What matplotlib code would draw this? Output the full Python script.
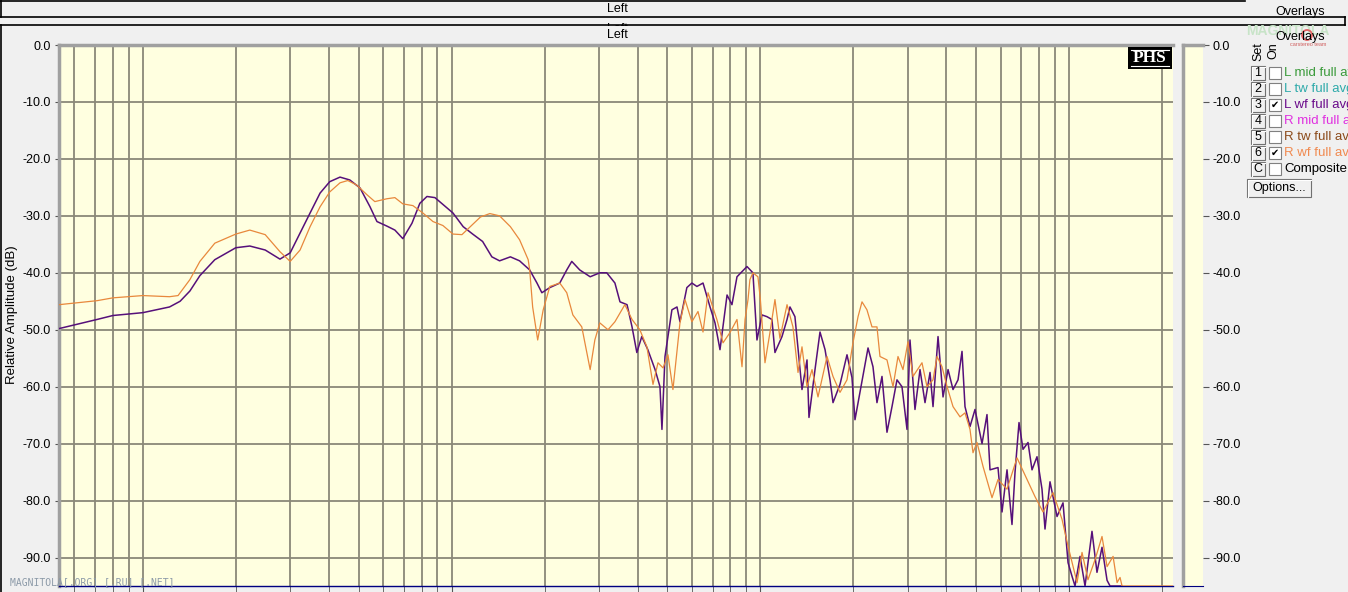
import numpy as np
import matplotlib.pyplot as plt
from matplotlib.ticker import LogLocator, NullFormatter
from matplotlib.patches import Rectangle, Circle

plt.rcParams['font.family'] = ['Liberation Sans', 'DejaVu Sans']

# L wf full avg (purple) - frequency in Hz, level in dB
l_wf_freq = [5.35, 7.1, 8.0, 10, 12.2, 13.2, 14.2, 15.3, 17.1, 20,
             22.2, 24.9, 27.8, 30, 32.3, 34.8, 37.5, 40.3, 43.5, 46.8,
             50.5, 54.4, 57.3, 61.7, 65.5, 69.5, 74.4, 78.9, 83.2, 88.3,
             93.7, 101, 109, 117, 126, 135, 143, 155, 166, 179,
             189, 196, 208, 224, 236, 245, 260, 281, 302, 318,
             338, 351, 370, 384, 398, 413, 432, 456, 473, 480,
             491, 517, 537, 549, 578, 600, 623, 652, 687, 713,
             740, 780, 809, 840, 872, 905, 946, 975, 1012, 1050,
             1090, 1115, 1175, 1220, 1247, 1294, 1364, 1416, 1437, 1503,
             1560, 1620, 1681, 1719, 1811, 1908, 1980, 2025, 2101, 2232,
             2316, 2386, 2477, 2571, 2669, 2770, 2875, 2985, 3052, 3168,
             3289, 3414, 3544, 3624, 3762, 3905, 4054, 4207, 4367, 4499,
             4600, 4775, 4957, 5223, 5420, 5543, 5884, 6063, 6293, 6531,
             6679, 6882, 7091, 7360, 7583, 7870, 8169, 8354, 8672, 9138,
             9555, 9920, 10220, 10450, 10850, 11260, 11860, 12310, 12780, 13270,
             13570, 14840]
l_wf_db = [-49.8, -48.2, -47.5, -47.0, -46.0, -45.0, -43.2, -40.5, -37.7, -35.6,
           -35.3, -36.0, -37.6, -36.5, -33.0, -29.5, -26.0, -24.0, -23.2, -23.7,
           -25.1, -28.4, -31.0, -31.8, -32.5, -34.0, -31.3, -27.8, -26.6, -26.8,
           -28.0, -29.5, -31.9, -33.2, -34.5, -37.2, -37.9, -37.2, -37.9, -39.5,
           -41.8, -43.5, -42.6, -41.8, -39.5, -38.0, -39.5, -40.7, -40.0, -40.0,
           -41.8, -45.1, -45.6, -49.5, -54.0, -51.2, -53.5, -57.0, -60.0, -67.5,
           -54.7, -46.5, -46.0, -48.6, -42.6, -41.8, -42.4, -41.8, -46.0, -48.8,
           -53.5, -43.9, -45.6, -40.7, -39.8, -38.9, -40.0, -51.8, -47.4, -47.7,
           -48.2, -54.0, -51.2, -48.2, -46.0, -47.7, -60.5, -55.3, -65.4, -57.0,
           -50.4, -53.5, -58.8, -62.8, -59.6, -54.4, -58.4, -65.8, -61.0, -53.2,
           -56.5, -62.8, -58.2, -68.0, -63.5, -58.8, -60.0, -67.5, -51.8, -64.0,
           -57.0, -62.8, -57.5, -63.5, -51.2, -61.8, -57.0, -60.5, -58.8, -53.8,
           -63.5, -67.0, -64.0, -70.0, -64.9, -74.6, -74.2, -82.0, -74.6, -84.2,
           -75.1, -66.3, -71.0, -69.8, -74.6, -72.3, -78.0, -85.0, -76.7, -82.8,
           -80.4, -90.9, -93.3, -95.0, -89.8, -95.0, -85.4, -92.6, -88.2, -94.0,
           -95.0, -95.0]

# R wf full avg (orange)
r_wf_freq = [5.35, 7.1, 8.0, 10, 12.2, 13.0, 14.2, 15.3, 17.1, 20,
             22.2, 24.9, 27.8, 30, 32.3, 34.8, 37.5, 40.3, 43.5, 46.1,
             49.3, 53.2, 56.4, 61.7, 65.5, 69.5, 74.9, 80.7, 87.0, 93.7,
             101, 108, 115, 124, 133, 143, 155, 166, 177, 179,
             183, 190, 198, 208, 224, 236, 247, 264, 274, 281,
             291, 302, 321, 338, 364, 384, 407, 429, 449, 466,
             484, 502, 521, 549, 570, 600, 628, 652, 677, 723,
             757, 797, 840, 872, 892, 912, 925, 946, 982, 1000,
             1035, 1074, 1115, 1157, 1220, 1275, 1324, 1364, 1416, 1470,
             1537, 1644, 1719, 1811, 1908, 1995, 2072, 2134, 2214, 2299,
             2386, 2440, 2571, 2689, 2791, 2897, 3007, 3121, 3338, 3465,
             3624, 3734, 3876, 4024, 4207, 4433, 4600, 4775, 4883, 5031,
             5262, 5627, 5884, 6293, 6780, 7305, 7753, 8231, 8868, 9485,
             9920, 10610, 11010, 11510, 12130, 12780, 13270, 13880, 14300, 14620,
             14840, 21700]
r_wf_db = [-45.6, -44.9, -44.4, -44.0, -44.2, -44.0, -41.2, -38.0, -34.8, -33.2,
           -32.5, -33.3, -36.3, -38.0, -36.0, -31.9, -28.4, -25.8, -24.2, -23.8,
           -24.6, -26.3, -27.5, -27.0, -26.8, -27.9, -28.2, -29.5, -31.0, -31.7,
           -33.2, -33.3, -31.9, -30.2, -29.6, -30.0, -31.9, -34.2, -37.7, -39.5,
           -46.0, -51.8, -46.5, -42.4, -41.8, -43.5, -47.4, -49.5, -54.0, -57.0,
           -51.8, -48.8, -50.0, -48.6, -45.6, -48.2, -50.0, -53.0, -59.6, -55.8,
           -56.7, -54.4, -60.5, -48.8, -44.7, -48.6, -46.8, -50.4, -43.5, -48.2,
           -52.3, -50.5, -48.2, -56.5, -48.2, -44.7, -41.2, -40.0, -40.7, -44.7,
           -55.8, -50.5, -44.7, -51.5, -45.6, -49.5, -57.5, -53.0, -60.0, -57.0,
           -61.8, -54.7, -58.2, -61.0, -58.8, -52.3, -47.7, -45.1, -46.5, -49.5,
           -49.5, -54.7, -55.3, -60.0, -54.7, -57.0, -52.1, -58.2, -55.8, -60.0,
           -58.8, -54.7, -56.5, -60.0, -63.5, -65.3, -64.6, -67.5, -71.6, -69.8,
           -74.0, -79.5, -76.3, -78.0, -72.5, -76.3, -79.3, -82.0, -78.6, -83.3,
           -88.0, -94.4, -89.1, -93.9, -90.4, -86.3, -91.6, -89.8, -94.4, -93.5,
           -95.0, -95.0]

db_ticks = [0, -10, -20, -30, -40, -50, -60, -70, -80, -90]
overlay_sets = ['1', '2', '3', '4', '5', '6', 'C']
overlay_names = ['L mid full avg', 'L tw full avg', 'L wf full avg', 'R mid full avg',
                 'R tw full avg', 'R wf full avg', 'Composite']
overlay_on = [False, False, True, False, False, True, False]
overlay_colors = ['#3a9a3a', '#2eaaaa', '#6a0a8a', '#e030e0', '#8b4a1a', '#f08a50', 'black']

W, H = 1348, 592
fig = plt.figure(figsize=(W / 100, H / 100), dpi=100, facecolor='#f0f0f0')

# background layer in pixel coordinates
bg = fig.add_axes([0, 0, 1, 1], zorder=-1)
bg.set_xlim(0, W)
bg.set_ylim(H, 0)
bg.axis('off')
bg.text(617, 28.5, 'Left', ha='center', va='center', fontsize=9, zorder=2)
bg.add_patch(Rectangle((1, 25.5), W - 3, H - 25, facecolor='#f0f0f0', edgecolor='none', zorder=4))
for (x0, x1, y0, y1) in [(0, 1245, 1, 1), (0, 1345, 17, 17), (0, 1345, 25, 25),
                         (1, 1, 1, 17), (1, 1, 25, H), (1345, 1345, 17, 25)]:
    bg.plot([x0, x1], [y0, y1], color='black', lw=1.2, zorder=5)
bg.text(617, 9, 'Left', ha='center', va='center', fontsize=9, zorder=5)
bg.text(617, 34.5, 'Left', ha='center', va='center', fontsize=9, zorder=5)
bg.text(12, 315, 'Relative Amplitude (dB)', rotation=90, ha='center', va='center',
        fontsize=9.5, zorder=5)
# faint site logo behind the overlay header
bg.text(1288, 31, 'MAGNITOLA', ha='center', va='center', fontsize=10, color='#c8e4c8',
        fontweight='bold', zorder=5)
bg.add_patch(Circle((1307, 35), 5, facecolor='none', edgecolor='#e06060', lw=1.3, zorder=6))
bg.text(1308, 44, 'carstereo team', ha='center', va='center', fontsize=4, color='#d06060', zorder=6)

# main plot
ax = fig.add_axes([59 / W, 6 / H, 1114 / W, 541 / H], facecolor='#ffffe0')
ax.plot(l_wf_freq, l_wf_db, color='#56107a', lw=1.1, zorder=3, solid_joinstyle='round')
ax.plot(r_wf_freq, r_wf_db, color='#e8883c', lw=0.9, zorder=3, solid_joinstyle='round')
ax.set_xscale('log')
ax.set_xlim(5.35, 21700)
ax.set_ylim(-95, 0)
ax.xaxis.set_major_locator(LogLocator(base=10))
ax.xaxis.set_minor_locator(LogLocator(base=10, subs=np.arange(2, 10)))
ax.xaxis.set_major_formatter(NullFormatter())
ax.xaxis.set_minor_formatter(NullFormatter())
ax.set_yticks(db_ticks)
ax.set_yticklabels([f'{v:.1f}' for v in db_ticks])
ax.set_axisbelow(True)
ax.grid(True, which='both', axis='x', color='#8a8878', lw=1.3)
ax.grid(True, which='major', axis='y', color='#8a8878', lw=1.3)
ax.tick_params(axis='y', length=3, color='#555555', labelsize=9, pad=3)
ax.tick_params(axis='x', which='both', length=4, direction='out', color='#555555')
for s in ['left', 'top']:
    ax.spines[s].set_color('#a0a0a0')
    ax.spines[s].set_linewidth(2.5)
ax.spines['right'].set_visible(False)
ax.spines['bottom'].set_color('#000080')
ax.spines['bottom'].set_linewidth(1)

# right level strip
ax2 = fig.add_axes([1183 / W, 6 / H, 20 / W, 541 / H], facecolor='#ffffe0')
ax2.set_ylim(-95, 0)
ax2.set_xticks([])
ax2.yaxis.tick_right()
ax2.set_yticks(db_ticks)
ax2.set_yticklabels([f'{v:.1f}' for v in db_ticks])
ax2.tick_params(axis='y', length=4, color='#555555', labelsize=9, pad=3)
for s in ['left', 'top']:
    ax2.spines[s].set_color('#a0a0a0')
    ax2.spines[s].set_linewidth(2.5)
ax2.spines['right'].set_visible(False)
ax2.spines['bottom'].set_color('#000080')

# foreground layer: logo, legend panel, watermark
fg = fig.add_axes([0, 0, 1, 1], zorder=10)
fg.set_xlim(0, W)
fg.set_ylim(H, 0)
fg.axis('off')
fg.patch.set_alpha(0)

fg.add_patch(Rectangle((1128, 47), 44, 22, facecolor='black', edgecolor='none'))
fg.text(1150, 58.5, 'PHS', color='white', ha='center', va='center', fontsize=12.5,
        fontweight='bold', family='Liberation Serif')
fg.plot([1131, 1169], [50, 50], color='white', lw=0.8)
fg.plot([1131, 1169], [66, 66], color='white', lw=0.8)

fg.text(10, 582, 'MAGNITOLA[.ORG] [.RU] [.NET]', color='#8c9aa8', fontsize=7,
        family='DejaVu Sans Mono', ha='left', va='center')

fg.text(1300, 12, 'Overlays', ha='center', va='center', fontsize=9)
fg.text(1300, 37, 'Overlays', ha='center', va='center', fontsize=9)
fg.text(1258, 52, 'Set', rotation=90, ha='center', va='center', fontsize=9)
fg.text(1273, 51, 'On', rotation=90, ha='center', va='center', fontsize=9)

for i, (num, name, on, col) in enumerate(zip(overlay_sets, overlay_names, overlay_on, overlay_colors)):
    yc = 73 + 16 * i
    fg.add_patch(Rectangle((1251, yc - 7), 14, 14, facecolor='#f0f0f0', edgecolor='#707070', lw=0.8))
    fg.plot([1251.5, 1251.5, 1264.5], [yc + 6.5, yc - 6.5, yc - 6.5], color='white', lw=0.8)
    fg.text(1258, yc, num, ha='center', va='center', fontsize=9)
    fg.add_patch(Rectangle((1269, yc - 6), 12, 12, facecolor='white', edgecolor='#808080', lw=0.8))
    if on:
        fg.text(1275, yc, '\u2714', ha='center', va='center', fontsize=7, family='DejaVu Sans')
    fg.text(1284, yc, name, ha='left', va='center', fontsize=9.5, color=col)

fg.add_patch(Rectangle((1247, 179), 64, 18, facecolor='#f0f0f0', edgecolor='#707070', lw=0.8))
fg.plot([1247.5, 1247.5, 1310.5], [196.5, 179.5, 179.5], color='white', lw=0.8)
fg.text(1279, 188, 'Options...', ha='center', va='center', fontsize=9)

fig.savefig('out.png', dpi=100, facecolor=fig.get_facecolor())
